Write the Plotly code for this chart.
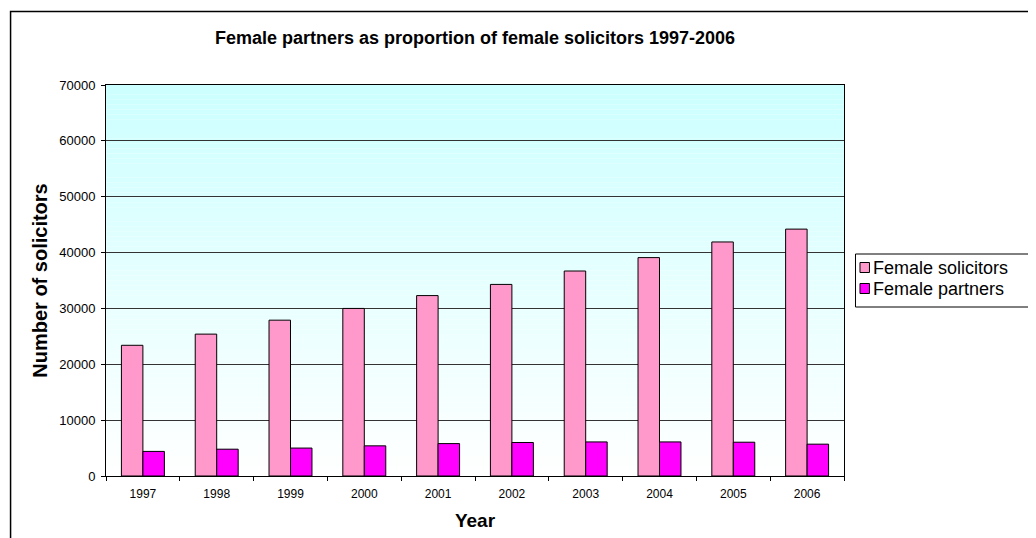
import plotly.graph_objects as go

years = ["1997", "1998", "1999", "2000", "2001", "2002", "2003", "2004", "2005", "2006"]
female_solicitors = [23400, 25400, 27900, 30000, 32300, 34300, 36700, 39100, 41900, 44200]
female_partners = [4400, 4800, 5000, 5400, 5800, 6000, 6100, 6100, 6050, 5700]
y_ticks = [0, 10000, 20000, 30000, 40000, 50000, 60000, 70000]
series_names = ["Female solicitors", "Female partners"]
series_colors = ["#FF99CC", "#FF00FF"]

OFF = 8  # page body margin of the html file
W, H = 1036, 538 - OFF
ML, MT = 106 - OFF, 85 - OFF
MR = W - (844.5 - OFF)
MB = H - (476 - OFF)
PW, PH = W - ML - MR, H - MT - MB

def px_x(px):
    return (px - OFF - ML) / PW

def px_y(py):
    return (H - MB - (py - OFF)) / PH

FONT = "Liberation Sans, Arial, sans-serif"

fig = go.Figure()
fig.add_trace(go.Bar(
    x=years, y=female_solicitors, name=series_names[0],
    marker=dict(color=series_colors[0], line=dict(color="#000000", width=1)),
    showlegend=False,
))
fig.add_trace(go.Bar(
    x=years, y=female_partners, name=series_names[1],
    marker=dict(color=series_colors[1], line=dict(color="#000000", width=1)),
    showlegend=False,
))

shapes = []
# gradient background of the plot area (cyan at top -> white at bottom)
n = 80
top = (0xCC, 0xFF, 0xFF)
bot = (0xFF, 0xFF, 0xFF)
for i in range(n):
    t = (i + 0.5) / n
    c = tuple(round(bot[k] + (top[k] - bot[k]) * t) for k in range(3))
    shapes.append(dict(
        type="rect", xref="paper", yref="paper",
        x0=0, x1=1, y0=i / n, y1=(i + 1) / n,
        fillcolor="rgb(%d,%d,%d)" % c, line=dict(width=0), layer="below",
    ))
# outer chart frame (only left and top edges visible in the window)
shapes.append(dict(
    type="rect", xref="paper", yref="paper",
    x0=px_x(10.5), x1=px_x(1100), y0=px_y(580), y1=px_y(11.5),
    line=dict(color="#000000", width=1.5), fillcolor="rgba(0,0,0,0)", layer="below",
))
# legend box
shapes.append(dict(
    type="rect", xref="paper", yref="paper",
    x0=px_x(856), x1=px_x(1100), y0=px_y(307), y1=px_y(254),
    line=dict(color="#000000", width=1), fillcolor="#FFFFFF", layer="above",
))
legend_rows = [(262.5, 272.5), (283.5, 293.5)]
annotations = []
for (ya, yb), name, col in zip(legend_rows, series_names, series_colors):
    shapes.append(dict(
        type="rect", xref="paper", yref="paper",
        x0=px_x(860.5), x1=px_x(870), y0=px_y(yb), y1=px_y(ya),
        line=dict(color="#000000", width=1), fillcolor=col, layer="above",
    ))
    annotations.append(dict(
        text=name, xref="paper", yref="paper",
        x=px_x(872), y=px_y((ya + yb) / 2), xanchor="left", yanchor="middle",
        showarrow=False, font=dict(size=18, family=FONT, color="#000000"),
    ))

fig.update_layout(
    width=W, height=H,
    margin=dict(l=ML, r=MR, t=MT, b=MB, pad=0, autoexpand=False),
    paper_bgcolor="#FFFFFF",
    plot_bgcolor="rgba(0,0,0,0)",
    barmode="group", bargap=0.418, bargroupgap=0,
    shapes=shapes,
    annotations=annotations,
    showlegend=False,
    font=dict(family=FONT, color="#000000"),
    title=dict(
        text="<b>Female partners as proportion of female solicitors 1997-2006</b>",
        font=dict(size=18, family=FONT, color="#000000"),
        x=0.5, xref="paper", xanchor="center",
        y=1 - (37.5 - OFF) / H, yref="container", yanchor="middle",
    ),
    xaxis=dict(
        type="category",
        showline=True, linecolor="#000000", linewidth=1, mirror=True,
        ticks="outside", tickson="boundaries", ticklen=4, tickcolor="#000000",
        tickfont=dict(size=12, family=FONT, color="#000000"),
        ticklabelstandoff=7,
        showgrid=False,
        title=dict(text="<b>Year</b>", font=dict(size=19, family=FONT, color="#000000"), standoff=13),
    ),
    yaxis=dict(
        range=[0, 70000], tickvals=y_ticks, tickformat="d",
        showline=True, linecolor="#000000", linewidth=1, mirror=True,
        ticks="outside", ticklen=4, tickcolor="#000000",
        tickfont=dict(size=13, family=FONT, color="#000000"),
        ticklabelstandoff=3,
        showgrid=True, gridcolor="#333333", gridwidth=1,
        zeroline=False,
        title=dict(text="<b>Number of solicitors</b>", font=dict(size=20, family=FONT, color="#000000"), standoff=6),
    ),
)

fig.write_html("out.html")
